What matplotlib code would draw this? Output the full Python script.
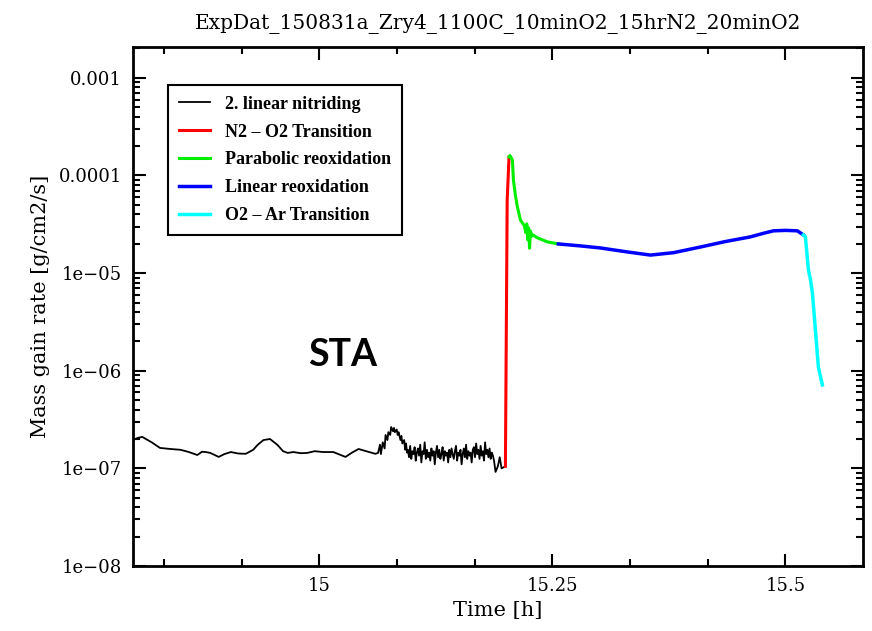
import numpy as np
import matplotlib
matplotlib.use("Agg")
import matplotlib.pyplot as plt
from matplotlib.ticker import LogLocator, FixedLocator, MultipleLocator

# values (time in h, rate in g/cm2/s)
t_nitr = [14.800, 14.805, 14.810, 14.820, 14.829, 14.840, 14.851, 14.860, 14.869, 14.874,
          14.878, 14.883, 14.892, 14.898, 14.905, 14.913, 14.921, 14.929, 14.934, 14.940,
          14.947, 14.955, 14.961, 14.966, 14.972, 14.980, 14.987, 14.995, 15.004, 15.015,
          15.022, 15.028, 15.035, 15.042, 15.048, 15.055, 15.060, 15.063]
r_nitr = [1.95e-7, 2.05e-7, 2.10e-7, 1.85e-7, 1.62e-7, 1.58e-7, 1.55e-7, 1.47e-7, 1.37e-7, 1.48e-7,
          1.47e-7, 1.44e-7, 1.31e-7, 1.40e-7, 1.47e-7, 1.42e-7, 1.41e-7, 1.55e-7, 1.75e-7, 1.95e-7,
          2.00e-7, 1.74e-7, 1.50e-7, 1.44e-7, 1.47e-7, 1.43e-7, 1.44e-7, 1.50e-7, 1.47e-7, 1.47e-7,
          1.38e-7, 1.31e-7, 1.45e-7, 1.58e-7, 1.52e-7, 1.45e-7, 1.41e-7, 1.44e-7]

t_bump = [15.065, 15.066, 15.068, 15.070, 15.071, 15.073, 15.074, 15.076, 15.077, 15.079,
          15.080, 15.081, 15.083, 15.084, 15.085, 15.087, 15.088, 15.089, 15.091, 15.092,
          15.093, 15.094]
r_bump = [1.75e-7, 1.40e-7, 1.85e-7, 1.60e-7, 2.20e-7, 1.95e-7, 2.35e-7, 2.20e-7, 2.65e-7, 2.40e-7,
          2.60e-7, 2.35e-7, 2.50e-7, 2.20e-7, 2.35e-7, 1.95e-7, 2.15e-7, 1.80e-7, 1.95e-7, 1.55e-7,
          1.80e-7, 1.45e-7]

t_noise = [15.0950, 15.0962, 15.0974, 15.0986, 15.0998, 15.1010, 15.1022, 15.1034, 15.1046, 15.1058,
           15.1070, 15.1082, 15.1094, 15.1106, 15.1118, 15.1130, 15.1142, 15.1154, 15.1166, 15.1178,
           15.1190, 15.1202, 15.1214, 15.1226, 15.1238, 15.1250, 15.1262, 15.1274, 15.1286, 15.1298,
           15.1310, 15.1322, 15.1334, 15.1346, 15.1358, 15.1370, 15.1382, 15.1394, 15.1406, 15.1418,
           15.1430, 15.1442, 15.1454, 15.1466, 15.1478, 15.1490, 15.1502, 15.1514, 15.1526, 15.1538,
           15.1550, 15.1562, 15.1574, 15.1586, 15.1598, 15.1610, 15.1622, 15.1634, 15.1646, 15.1658,
           15.1670, 15.1682, 15.1694, 15.1706, 15.1718, 15.1730, 15.1742, 15.1754, 15.1766, 15.1778,
           15.1790, 15.1802, 15.1814, 15.1826, 15.1838, 15.1850, 15.1862, 15.1874,
           15.1890, 15.1915, 15.1935, 15.1955, 15.1996]
r_noise = [1.55e-7, 1.30e-7, 1.70e-7, 1.25e-7, 1.50e-7, 1.40e-7, 1.65e-7, 1.20e-7, 1.45e-7, 1.60e-7,
           1.35e-7, 1.75e-7, 1.15e-7, 1.50e-7, 1.40e-7, 1.85e-7, 1.25e-7, 1.55e-7, 1.30e-7, 1.45e-7,
           1.20e-7, 1.60e-7, 1.35e-7, 1.50e-7, 1.10e-7, 1.45e-7, 1.70e-7, 1.30e-7, 1.55e-7, 1.25e-7,
           1.40e-7, 1.65e-7, 1.20e-7, 1.50e-7, 1.35e-7, 1.45e-7, 1.15e-7, 1.55e-7, 1.30e-7, 1.60e-7,
           1.40e-7, 1.25e-7, 1.50e-7, 1.70e-7, 1.20e-7, 1.45e-7, 1.35e-7, 1.55e-7, 1.10e-7, 1.40e-7,
           1.60e-7, 1.30e-7, 1.75e-7, 1.25e-7, 1.50e-7, 1.35e-7, 1.45e-7, 1.15e-7, 1.55e-7, 1.65e-7,
           1.30e-7, 1.80e-7, 1.40e-7, 1.55e-7, 1.25e-7, 1.70e-7, 1.35e-7, 1.50e-7, 1.20e-7, 1.85e-7,
           1.40e-7, 1.55e-7, 1.30e-7, 1.60e-7, 1.25e-7, 1.45e-7, 1.35e-7, 1.20e-7,
           0.92e-7, 1.05e-7, 1.30e-7, 1.00e-7, 1.05e-7]

t_trans = [15.1996, 15.2015, 15.2035]
r_trans = [1.05e-7, 5.6e-5, 1.55e-4]

t_parab = [15.2035, 15.2045, 15.2071, 15.2082, 15.2103, 15.2124, 15.2157, 15.2200, 15.2215, 15.2225,
           15.2235, 15.2245, 15.2255, 15.2265, 15.2280, 15.2295, 15.2339, 15.2446, 15.2564]
r_parab = [1.55e-4, 1.60e-4, 1.44e-4, 9.0e-5, 6.3e-5, 4.8e-5, 3.5e-5, 3.05e-5, 2.6e-5, 3.2e-5,
           2.2e-5, 2.9e-5, 1.8e-5, 2.7e-5, 2.4e-5, 2.45e-5, 2.30e-5, 2.09e-5, 1.99e-5]

t_lin = [15.2564, 15.2800, 15.3015, 15.3300, 15.3552, 15.3800, 15.4088, 15.4350, 15.4624, 15.4760,
         15.4871, 15.5000, 15.5129, 15.5193]
r_lin = [1.99e-5, 1.90e-5, 1.81e-5, 1.65e-5, 1.53e-5, 1.62e-5, 1.85e-5, 2.10e-5, 2.35e-5, 2.55e-5,
         2.71e-5, 2.74e-5, 2.71e-5, 2.46e-5]

t_ar = [15.5193, 15.5215, 15.5247, 15.5270, 15.5290, 15.5322, 15.5354, 15.5397]
r_ar = [2.46e-5, 2.35e-5, 1.08e-5, 8.5e-6, 6.27e-6, 2.62e-6, 1.09e-6, 7.15e-7]

plt.rcParams['font.family'] = 'DejaVu Serif'

fig = plt.figure(figsize=(8.72, 6.31), dpi=100)
ax = fig.add_axes([0.1525, 0.103, 0.8372, 0.8225])

ax.plot(t_nitr + t_bump + t_noise, r_nitr + r_bump + r_noise, color='black', lw=1.3,
        label='2. linear nitriding')
ax.plot(t_trans, r_trans, color='#ff0000', lw=2.2, label='N2 \u2013 O2 Transition')
ax.plot(t_parab, r_parab, color='#00ee00', lw=2.2, label='Parabolic reoxidation')
ax.plot(t_lin, r_lin, color='#0000ff', lw=2.5, label='Linear reoxidation')
ax.plot(t_ar, r_ar, color='#00ffff', lw=2.5, label='O2 \u2013 Ar Transition')

ax.set_yscale('log')
ax.set_xlim(14.80, 15.5833)
ax.set_ylim(1e-8, 2.07e-3)

ax.xaxis.set_major_locator(FixedLocator([15, 15.25, 15.5]))
ax.xaxis.set_minor_locator(MultipleLocator(1 / 12))
ax.set_xticklabels(['15', '15.25', '15.5'])
ax.yaxis.set_minor_locator(LogLocator(base=10, subs=np.arange(2, 10), numticks=20))
ax.set_yticks([1e-8, 1e-7, 1e-6, 1e-5, 1e-4, 1e-3])
ax.set_yticklabels(['1e\u221208', '1e\u221207', '1e\u221206', '1e\u221205', '0.0001', '0.001'])

ax.tick_params(which='both', direction='in', top=True, right=True, width=1.5, labelsize=13)
ax.tick_params(which='major', length=9, pad=8)
ax.tick_params(which='minor', length=5)
for s in ax.spines.values():
    s.set_linewidth(2)

ax.set_xlabel('Time [h]', fontsize=15, labelpad=4)
ax.set_ylabel('Mass gain rate [g/cm2/s]', fontsize=15, labelpad=6)
ax.set_title('ExpDat_150831a_Zry4_1100C_10minO2_15hrN2_20minO2', fontsize=14.5, pad=13)

ax.text(0.2877, 0.4066, 'STA', transform=ax.transAxes, ha='center', va='center',
        fontsize=27, fontweight='bold', family='Lato')

leg = ax.legend(loc='upper left', bbox_to_anchor=(0.048, 0.927), borderaxespad=0,
                fancybox=False, framealpha=1, edgecolor='black',
                prop={'family': 'Liberation Serif', 'weight': 'bold', 'size': 13},
                handlelength=1.7, handletextpad=0.85, labelspacing=0.6, borderpad=0.6)
leg.get_frame().set_linewidth(1.5)

fig.savefig('out.png', dpi=100)
